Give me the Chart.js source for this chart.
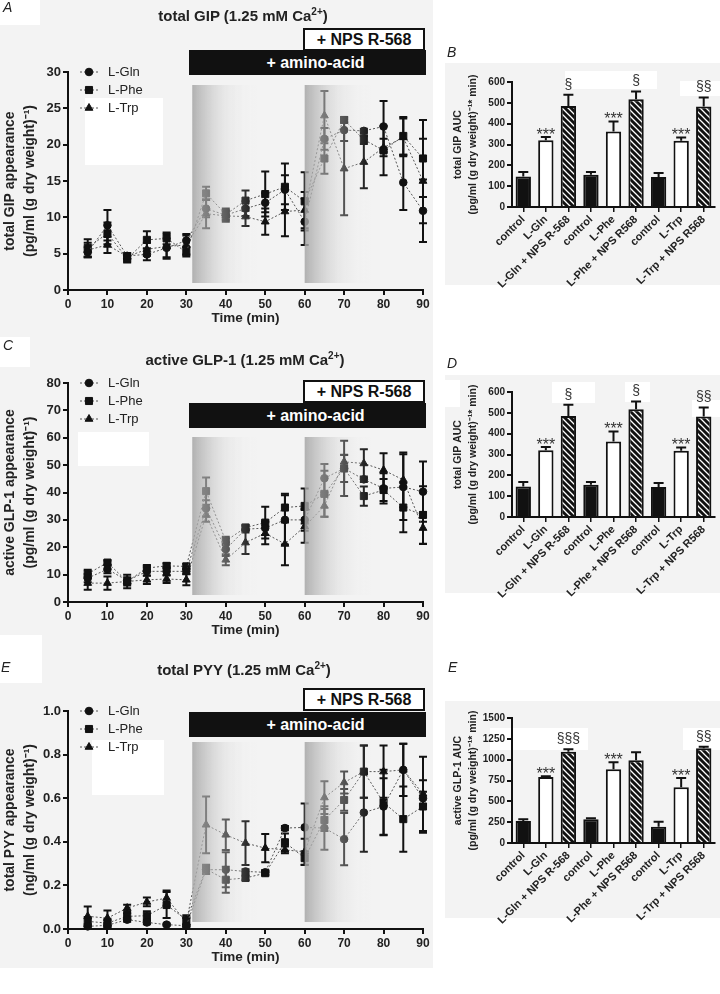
<!DOCTYPE html>
<html>
<head>
<meta charset="utf-8">
<script src="https://cdn.jsdelivr.net/npm/chart.js@4.4.1/dist/chart.umd.min.js"></script>
<style>
  body { margin: 0; background: #fff; font-family: 'Liberation Sans', Arial, sans-serif; }
  #page { position: relative; width: 720px; height: 994px; overflow: hidden; }
  .bg { position: absolute; background: #f3f3f3; }
  .wh { position: absolute; background: #fff; }
  canvas { position: absolute; }
  .lbl { position: absolute; font-style: italic; font-size: 14px; line-height: 14px; color: #222; }
  .ttl { position: absolute; font-weight: bold; font-size: 15px; line-height: 15px; color: #222; white-space: nowrap; transform: translateX(-50%); }
  .ttl sup { font-size: 10px; line-height: 0; }
  .nps { position: absolute; left: 303px; width: 122px; height: 23px; box-sizing: border-box; border: 2px solid #111; background: #fff; color: #111;
         font-weight: bold; font-size: 16px; line-height: 19px; text-align: center; }
  .amino { position: absolute; left: 189px; width: 237px; height: 25px; box-sizing: border-box; padding-left: 16px; background: #111; color: #fff;
           font-weight: bold; font-size: 16px; line-height: 25px; text-align: center; }
</style>
</head>
<body>
<div id="page">
  <div class="bg" style="left:0;top:0;width:433px;height:968px"></div>
  <div class="bg" style="left:445px;top:63px;width:275px;height:222px"></div>
  <div class="bg" style="left:445px;top:375px;width:275px;height:218px"></div>
  <div class="bg" style="left:445px;top:701px;width:275px;height:217px"></div>

  <div class="wh" style="left:0;top:0;width:40px;height:25px"></div>
  <div class="wh" style="left:85px;top:98px;width:78px;height:67px"></div>
  <div class="wh" style="left:0;top:337px;width:30px;height:30px"></div>
  <div class="wh" style="left:78px;top:432px;width:71px;height:34px"></div>
  <div class="wh" style="left:0;top:635px;width:42px;height:48px"></div>
  <div class="wh" style="left:92px;top:740px;width:72px;height:55px"></div>
  <div class="wh" style="left:565px;top:71px;width:92px;height:18px"></div>
  <div class="wh" style="left:680px;top:81px;width:40px;height:15px"></div>
  <div class="wh" style="left:445px;top:380px;width:15px;height:27px"></div>
  <div class="wh" style="left:552px;top:382px;width:43px;height:21px"></div>
  <div class="wh" style="left:625px;top:382px;width:25px;height:20px"></div>
  <div class="wh" style="left:692px;top:400px;width:28px;height:17px"></div>
  <div class="wh" style="left:490px;top:728px;width:98px;height:22px"></div>
  <div class="wh" style="left:683px;top:728px;width:37px;height:22px"></div>

  <canvas id="chartA" width="440" height="330" style="left:0;top:0;width:440px;height:330px"></canvas>
  <canvas id="chartC" width="440" height="322" style="left:0;top:320px;width:440px;height:322px"></canvas>
  <canvas id="chartE" width="440" height="329" style="left:0;top:640px;width:440px;height:329px"></canvas>
  <canvas id="chartB" width="280" height="249" style="left:440px;top:40px;width:280px;height:249px"></canvas>
  <canvas id="chartD" width="280" height="249" style="left:440px;top:350px;width:280px;height:249px"></canvas>
  <canvas id="chartF" width="280" height="249" style="left:440px;top:676px;width:280px;height:249px"></canvas>

  <div class="lbl" style="left:3px;top:0">A</div>
  <div class="lbl" style="left:3px;top:338px">C</div>
  <div class="lbl" style="left:1px;top:660px">E</div>
  <div class="lbl" style="left:447px;top:45px">B</div>
  <div class="lbl" style="left:447px;top:356px">D</div>
  <div class="lbl" style="left:448px;top:660px">E</div>

  <div class="ttl" style="left:243px;top:8px">total GIP (1.25 mM Ca<sup>2+</sup>)</div>
  <div class="ttl" style="left:245px;top:352px">active GLP-1 (1.25 mM Ca<sup>2+</sup>)</div>
  <div class="ttl" style="left:244px;top:662px">total PYY (1.25 mM Ca<sup>2+</sup>)</div>

  <div class="nps" style="top:28px">+ NPS R-568</div>
  <div class="amino" style="top:50px">+ amino-acid</div>
  <div class="nps" style="top:380px">+ NPS R-568</div>
  <div class="amino" style="top:403px">+ amino-acid</div>
  <div class="nps" style="top:688px">+ NPS R-568</div>
  <div class="amino" style="top:712px">+ amino-acid</div>
</div>

<script>
// time points (min)
const times = [5, 10, 15, 20, 25, 30, 35, 40, 45, 50, 55, 60, 65, 70, 75, 80, 85, 90];

// total GIP appearance, pg/ml (g dry weight)^-1
const gipGln    = [5.2, 8.9, 4.7, 4.9, 5.8, 6.8, 11.2, 10.3, 11.2, 12.0, 13.8, 9.4, 20.8, 22.0, 21.9, 22.5, 14.8, 10.9];
const gipGlnErr = [0.7, 2.1, 0.4, 0.8, 1.3, 0.9, 1.2, 0.6, 1.0, 1.3, 2.0, 3.2, 1.5, 1.5, 0.3, 3.5, 3.8, 4.3];
const gipPhe    = [5.8, 7.8, 4.3, 6.9, 7.1, 5.2, 13.3, 10.4, 12.3, 13.2, 14.2, 12.2, 18.1, 23.4, 20.7, 19.2, 21.2, 18.1];
const gipPheErr = [1.2, 1.5, 0.5, 1.2, 0.8, 0.6, 0.9, 0.8, 1.4, 3.1, 3.2, 4.0, 2.1, 0.4, 0.6, 3.4, 2.6, 5.3];
const gipTrp    = [5.5, 6.2, 4.6, 5.6, 6.0, 6.2, 10.5, 10.2, 10.1, 9.4, 10.8, 11.0, 24.0, 16.7, 17.6, 19.6, 21.0, 15.0];
const gipTrpErr = [1.0, 1.1, 0.4, 0.9, 1.7, 1.3, 2.0, 0.8, 1.3, 1.8, 3.4, 2.5, 3.4, 6.4, 3.6, 1.2, 2.6, 5.8];

// active GLP-1 appearance, pg/ml (g dry weight)^-1
const glpGln    = [8.7, 12.0, 7.8, 11.2, 11.2, 11.2, 34.2, 19.3, 26.6, 27.0, 30.0, 30.0, 45.2, 48.8, 44.8, 41.5, 42.0, 40.3];
const glpGlnErr = [1.5, 1.5, 1.0, 1.5, 1.5, 1.0, 3.0, 2.5, 1.2, 2.5, 9.0, 4.0, 5.2, 5.0, 1.0, 5.5, 12.0, 11.0];
const glpPhe    = [10.3, 14.4, 7.5, 12.4, 13.2, 13.0, 40.5, 22.3, 27.2, 29.0, 34.5, 35.1, 39.5, 48.8, 38.7, 40.9, 34.5, 31.8];
const glpPheErr = [1.5, 0.8, 2.5, 1.0, 1.0, 1.0, 5.0, 1.5, 1.0, 5.8, 5.0, 6.4, 8.4, 10.1, 3.5, 4.0, 9.0, 10.5];
const glpTrp    = [6.9, 6.9, 7.5, 8.1, 8.4, 8.1, 31.8, 15.4, 21.7, 25.1, 21.2, 27.6, 35.1, 51.2, 50.6, 48.2, 44.6, 27.0];
const glpTrpErr = [2.4, 2.4, 1.5, 1.5, 1.5, 2.0, 2.5, 2.0, 4.2, 4.0, 7.8, 6.0, 4.0, 2.5, 5.2, 6.1, 10.0, 5.8];

// total PYY appearance, ng/ml (g dry weight)^-1
const pyyGln    = [0.012, 0.017, 0.043, 0.030, 0.020, 0.015, 0.272, 0.272, 0.264, 0.260, 0.463, 0.466, 0.463, 0.412, 0.534, 0.562, 0.730, 0.600];
const pyyGlnErr = [0.010, 0.010, 0.010, 0.008, 0.005, 0.005, 0.020, 0.080, 0.010, 0.010, 0.010, 0.110, 0.100, 0.120, 0.180, 0.130, 0.120, 0.030];
const pyyPhe    = [0.035, 0.027, 0.058, 0.061, 0.110, 0.043, 0.275, 0.226, 0.234, 0.256, 0.398, 0.325, 0.500, 0.592, 0.722, 0.580, 0.504, 0.562];
const pyyPheErr = [0.020, 0.020, 0.015, 0.020, 0.060, 0.020, 0.020, 0.060, 0.010, 0.010, 0.040, 0.030, 0.050, 0.050, 0.120, 0.150, 0.150, 0.120];
const pyyTrp    = [0.058, 0.050, 0.096, 0.124, 0.142, 0.030, 0.478, 0.432, 0.394, 0.371, 0.363, 0.354, 0.603, 0.672, 0.722, 0.722, 0.730, 0.620];
const pyyTrpErr = [0.045, 0.035, 0.015, 0.020, 0.035, 0.020, 0.130, 0.070, 0.100, 0.065, 0.015, 0.060, 0.075, 0.050, 0.120, 0.120, 0.120, 0.170];

// AUC bars
const barLabels = ['control', 'L-Gln', 'L-Gln + NPS R-568', 'control', 'L-Phe', 'L-Phe + NPS R568', 'control', 'L-Trp', 'L-Trp + NPS R568'];
const gipAuc    = [147, 320, 485, 155, 362, 517, 144, 318, 482];
const gipAucErr = [21, 16, 54, 13, 49, 38, 19, 16, 44];
const gipMarks  = ['', '***', '§', '', '***', '§', '', '***', '§§'];
const glpAuc    = [264, 792, 1096, 285, 884, 992, 196, 668, 1136];
const glpAucErr = [20, 8, 28, 12, 84, 96, 60, 112, 20];
const glpMarks  = ['', '***', '§§§', '', '***', '', '', '***', '§§'];

Chart.defaults.font.family = "'Liberation Sans', Arial, sans-serif";
Chart.defaults.color = '#222';

function valueOf(d) {
  return (d !== null && typeof d === 'object') ? d.y : d;
}

// vertical error bars read from dataset.errors
function drawErrors(chart, opts) {
  const ctx = chart.ctx;
  const ys = chart.scales.y;
  ctx.save();
  ctx.strokeStyle = '#111';
  ctx.lineWidth = 2;
  chart.data.datasets.forEach((ds, i) => {
    if (!ds.errors) return;
    const meta = chart.getDatasetMeta(i);
    meta.data.forEach((el, j) => {
      const v = valueOf(ds.data[j]);
      const e = ds.errors[j];
      const top = ys.getPixelForValue(v + e);
      const bot = opts.upOnly ? ys.getPixelForValue(v) : ys.getPixelForValue(v - e);
      ctx.beginPath();
      ctx.moveTo(el.x, bot);
      ctx.lineTo(el.x, top);
      ctx.moveTo(el.x - opts.cap, top);
      ctx.lineTo(el.x + opts.cap, top);
      if (!opts.upOnly) {
        ctx.moveTo(el.x - opts.cap, bot);
        ctx.lineTo(el.x + opts.cap, bot);
      }
      ctx.stroke();
    });
  });
  ctx.restore();
}

const errorBars = {
  id: 'errorBars',
  beforeDatasetsDraw(chart, args, opts) {
    if (opts.under) drawErrors(chart, opts);
  },
  afterDatasetsDraw(chart, args, opts) {
    if (!opts.under) drawErrors(chart, opts);
  }
};

// grey fading band over the treatment windows
const shading = {
  id: 'shading',
  afterDatasetsDraw(chart, args, opts) {
    if (!opts.ranges) return;
    const { ctx, chartArea } = chart;
    const x = chart.scales.x;
    const top = chartArea.top + opts.top;
    const bot = chartArea.bottom - opts.bottom;
    ctx.save();
    opts.ranges.forEach(r => {
      const x1 = x.getPixelForValue(r[0]);
      const x2 = x.getPixelForValue(r[1]);
      const g = ctx.createLinearGradient(x1, 0, x2, 0);
      g.addColorStop(0, 'rgba(165,165,165,0.85)');
      g.addColorStop(0.5, 'rgba(215,215,215,0.4)');
      g.addColorStop(1, 'rgba(243,243,243,0)');
      ctx.fillStyle = g;
      ctx.fillRect(x1, top, x2 - x1, bot - top);
    });
    ctx.restore();
  }
};

// legend: dotted line + marker + label, top left of the plot
const dotLegend = {
  id: 'dotLegend',
  afterDraw(chart, args, opts) {
    if (!opts.show) return;
    const { ctx, chartArea } = chart;
    chart.data.datasets.forEach((ds, i) => {
      const y = chartArea.top + i * 18;
      const x0 = chartArea.left + 12;
      ctx.save();
      ctx.strokeStyle = '#555';
      ctx.lineWidth = 1;
      ctx.setLineDash([2, 2]);
      ctx.beginPath();
      ctx.moveTo(x0, y);
      ctx.lineTo(x0 + 18, y);
      ctx.stroke();
      ctx.setLineDash([]);
      ctx.fillStyle = '#111';
      ctx.strokeStyle = '#111';
      Chart.helpers.drawPoint(ctx, { pointStyle: ds.pointStyle, radius: ds.pointRadius, borderWidth: 1, rotation: 0 }, x0 + 9, y);
      ctx.fillStyle = '#222';
      ctx.font = "13px 'Liberation Sans', Arial, sans-serif";
      ctx.textBaseline = 'middle';
      ctx.textAlign = 'left';
      ctx.fillText(ds.label, x0 + 28, y);
      ctx.restore();
    });
  }
};

// significance marks above the bars
const barMarks = {
  id: 'barMarks',
  afterDatasetsDraw(chart, args, opts) {
    if (!opts.marks) return;
    const ctx = chart.ctx;
    const ds = chart.data.datasets[0];
    const meta = chart.getDatasetMeta(0);
    const ys = chart.scales.y;
    ctx.save();
    ctx.fillStyle = '#333';
    ctx.textAlign = 'center';
    ctx.textBaseline = 'alphabetic';
    meta.data.forEach((el, j) => {
      const m = opts.marks[j];
      if (!m) return;
      const top = ys.getPixelForValue(ds.data[j] + ds.errors[j]);
      if (m[0] === '*') {
        ctx.font = "16px 'Liberation Sans', Arial, sans-serif";
        ctx.fillText(m, el.x, top + 3);
      } else {
        ctx.font = "14px 'Liberation Sans', Arial, sans-serif";
        ctx.fillText(m, el.x, top - 6);
      }
    });
    ctx.restore();
  }
};

function hatchPattern() {
  const c = document.createElement('canvas');
  c.width = 6;
  c.height = 6;
  const g = c.getContext('2d');
  g.fillStyle = '#111';
  g.fillRect(0, 0, 6, 6);
  g.strokeStyle = '#fff';
  g.lineWidth = 1.3;
  g.beginPath();
  g.moveTo(0, 0); g.lineTo(6, 6);
  g.moveTo(-3, 3); g.lineTo(3, 9);
  g.moveTo(3, -3); g.lineTo(9, 3);
  g.stroke();
  return g.createPattern(c, 'repeat');
}
const hatch = hatchPattern();

function lineSet(label, vals, errs, style, radius) {
  return {
    label: label,
    data: times.map((t, i) => ({ x: t, y: vals[i] })),
    errors: errs,
    pointStyle: style,
    pointRadius: radius,
    pointHoverRadius: radius,
    pointBackgroundColor: '#111',
    pointBorderColor: '#111',
    pointBorderWidth: 1,
    borderColor: '#555',
    borderWidth: 1,
    borderDash: [2, 2],
    fill: false,
    tension: 0,
    clip: false
  };
}

const axisLine = { color: '#111', width: 2 };
const tickGrid = { drawOnChartArea: false, tickLength: 5, color: '#111', lineWidth: 2 };

function lineChart(id, cfg) {
  return new Chart(document.getElementById(id), {
    type: 'line',
    data: {
      datasets: [
        lineSet('L-Gln', cfg.gln, cfg.glnErr, 'circle', 3.8),
        lineSet('L-Phe', cfg.phe, cfg.pheErr, 'rect', 5),
        lineSet('L-Trp', cfg.trp, cfg.trpErr, 'triangle', 4.5)
      ]
    },
    options: {
      responsive: false,
      animation: false,
      layout: { padding: { top: cfg.padTop, right: 17, left: 0, bottom: 0 } },
      plugins: {
        legend: { display: false },
        tooltip: { enabled: false },
        dotLegend: { show: true },
        shading: { ranges: [[31.5, 48], [60, 77]], top: cfg.shadeTop, bottom: 7 },
        errorBars: { cap: 4, under: true, upOnly: false }
      },
      scales: {
        x: {
          type: 'linear', min: 0, max: 90,
          ticks: { stepSize: 10, autoSkip: false, padding: 2, color: '#222', font: { size: 12, weight: 'bold' } },
          grid: tickGrid,
          border: axisLine,
          title: { display: true, text: 'Time (min)', color: '#222', font: { size: 13.5, weight: 'bold' }, padding: { top: 0, bottom: 4 } },
          afterFit: s => { s.height = 40; }
        },
        y: {
          min: 0, max: cfg.max,
          ticks: { stepSize: cfg.step, padding: 2, color: '#222', font: { size: 13, weight: 'bold' }, callback: cfg.fmt },
          grid: tickGrid,
          border: axisLine,
          title: { display: true, text: cfg.yTitle, color: '#222', font: { size: 14, weight: 'bold', lineHeight: 1.43 }, padding: { top: 0, bottom: 0 } },
          afterFit: s => { s.width = 68; }
        }
      }
    },
    plugins: [errorBars, shading, dotLegend]
  });
}

function barChart(id, vals, errs, marks, max, step, yTitle) {
  return new Chart(document.getElementById(id), {
    type: 'bar',
    data: {
      labels: barLabels,
      datasets: [{
        data: vals,
        errors: errs,
        backgroundColor: ['#111', '#fff', hatch, '#111', '#fff', hatch, '#111', '#fff', hatch],
        borderColor: '#111',
        borderWidth: 2,
        barPercentage: 0.68,
        categoryPercentage: 1
      }]
    },
    options: {
      responsive: false,
      animation: false,
      layout: { padding: { top: 42, right: 5, left: 0, bottom: 0 } },
      plugins: {
        legend: { display: false },
        tooltip: { enabled: false },
        errorBars: { cap: 5, under: false, upOnly: true },
        barMarks: { marks: marks }
      },
      scales: {
        x: {
          offset: true,
          ticks: { autoSkip: false, minRotation: 45, maxRotation: 45, padding: 1, color: '#222', font: { size: 11, weight: 'bold' } },
          grid: { offset: false, drawOnChartArea: false, tickLength: 5, color: '#111', lineWidth: 1.5 },
          border: axisLine,
          afterFit: s => { s.height = 82; }
        },
        y: {
          min: 0, max: max,
          ticks: { stepSize: step, padding: 2, color: '#222', font: { size: 10, weight: 'bold' }, callback: v => String(v) },
          grid: tickGrid,
          border: axisLine,
          title: { display: true, text: yTitle, color: '#222', font: { size: 10.5, weight: 'bold', lineHeight: 1.43 }, padding: { top: 10.5, bottom: 0 } },
          afterFit: s => { s.width = 72; }
        }
      }
    },
    plugins: [errorBars, barMarks]
  });
}

lineChart('chartA', {
  gln: gipGln, glnErr: gipGlnErr, phe: gipPhe, pheErr: gipPheErr, trp: gipTrp, trpErr: gipTrpErr,
  max: 30, step: 5, padTop: 72, shadeTop: 13,
  yTitle: ['total GIP appearance', '(pg/ml (g dry weight)\u207B\u00B9)']
});

lineChart('chartC', {
  gln: glpGln, glnErr: glpGlnErr, phe: glpPhe, pheErr: glpPheErr, trp: glpTrp, trpErr: glpTrpErr,
  max: 80, step: 10, padTop: 63, shadeTop: 54,
  yTitle: ['active GLP-1 appearance', '(pg/ml (g dry weight)\u207B\u00B9)']
});

lineChart('chartE', {
  gln: pyyGln, glnErr: pyyGlnErr, phe: pyyPhe, pheErr: pyyPheErr, trp: pyyTrp, trpErr: pyyTrpErr,
  max: 1.0, step: 0.2, padTop: 71, shadeTop: 31,
  fmt: v => v.toFixed(1),
  yTitle: ['total PYY appearance', '(ng/ml (g dry weight)\u207B\u00B9)']
});

barChart('chartB', gipAuc, gipAucErr, gipMarks, 600, 100, ['total GIP AUC', '(pg/ml (g dry weight)\u207B\u00B9* min)']);
barChart('chartD', gipAuc, gipAucErr, gipMarks, 600, 100, ['total GIP AUC', '(pg/ml (g dry weight)\u207B\u00B9* min)']);
barChart('chartF', glpAuc, glpAucErr, glpMarks, 1500, 250, ['active GLP-1 AUC', '(pg/ml (g dry weight)\u207B\u00B9* min)']);
</script>
</body>
</html>
